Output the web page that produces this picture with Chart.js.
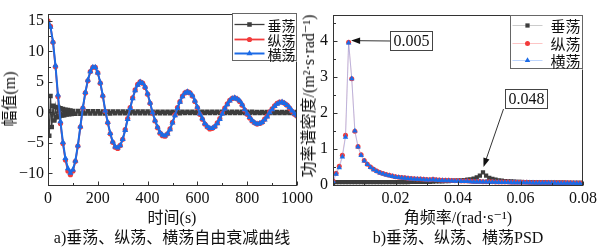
<!DOCTYPE html>
<html>
<head>
<meta charset="utf-8">
<script src="https://cdn.jsdelivr.net/npm/chart.js@4.4.1/dist/chart.umd.min.js"></script>
<style>
  body { margin: 0; background: #fff; }
  #page { position: relative; width: 603px; height: 250px; overflow: hidden; font-family: "Liberation Serif", "DejaVu Serif", "Noto Sans CJK SC", serif; color: #111; }
  .box { position: absolute; top: 0; height: 250px; }
  .txt { position: absolute; white-space: nowrap; font-size: 16px; line-height: 16px; }
  .ytitle { transform: translate(-50%, -50%) rotate(-90deg); }
  .ctr { transform: translate(-50%, -50%); }
</style>
</head>
<body>
<div id="page">
  <div class="box" style="left:0;width:320px"><canvas id="decay"></canvas></div>
  <div class="box" style="left:295px;width:308px"><canvas id="psd"></canvas></div>
  <div class="txt ytitle" style="left:10px;top:99px">幅值(m)</div>
  <div class="txt ctr" style="left:172px;top:218px">时间(s)</div>
  <div class="txt ctr" style="left:172px;top:238px">a)垂荡、纵荡、横荡自由衰减曲线</div>
  <div class="txt ytitle" style="left:309px;top:96px">功率谱密度/(m²·s·rad⁻¹)</div>
  <div class="txt ctr" style="left:458px;top:218px">角频率/(rad·s⁻¹)</div>
  <div class="txt ctr" style="left:458px;top:238px">b)垂荡、纵荡、横荡PSD</div>
</div>
<script>
// ---- data: free decay (time in s, amplitude in m)
const time = [0,10,20,30,40,50,60,70,80,90,
  100,110,120,130,140,150,160,170,180,190,
  200,210,220,230,240,250,260,270,280,290,
  300,310,320,330,340,350,360,370,380,390,
  400,410,420,430,440,450,460,470,480,490,
  500,510,520,530,540,550,560,570,580,590,
  600,610,620,630,640,650,660,670,680,690,
  700,710,720,730,740,750,760,770,780,790,
  800,810,820,830,840,850,860,870,880,890,
  900,910,920,930,940,950,960,970,980,990,1000];

const surge = [15,14.1,11.5,7.5,2.6,-1.8,-5.1,-7.8,-9.6,-10.2,
  -9.6,-8.0,-5.5,-2.4,0.7,3.2,5.2,6.7,7.4,7.4,
  6.5,4.8,2.7,0.2,-1.7,-3.5,-4.9,-5.7,-5.9,-5.4,
  -4.4,-2.8,-1.0,0.8,2.4,3.7,4.6,5.0,4.8,4.1,
  3.0,1.5,-0.1,-1.4,-2.5,-3.4,-3.8,-3.9,-3.5,-2.7,
  -1.6,-0.4,0.8,1.8,2.7,3.2,3.4,3.2,2.7,1.8,
  0.8,-0.3,-1.1,-1.9,-2.4,-2.7,-2.6,-2.3,-1.7,-1.0,
  -0.1,0.7,1.4,2.0,2.3,2.4,2.2,1.8,1.2,0.4,
  -0.3,-0.9,-1.4,-1.7,-1.9,-1.8,-1.6,-1.1,-0.6,0.1,
  0.6,1.1,1.5,1.7,1.7,1.5,1.2,0.7,0.2,-0.3,-0.6];

const sway = [14.8,14.0,11.6,7.7,2.9,-1.5,-4.9,-7.5,-9.2,-9.9,
  -9.4,-7.9,-5.4,-2.3,0.8,3.3,5.3,6.7,7.4,7.4,
  6.5,4.9,2.8,0.3,-1.6,-3.4,-4.8,-5.6,-5.8,-5.4,
  -4.4,-2.9,-1.1,0.7,2.3,3.6,4.5,5.0,4.8,4.2,
  3.1,1.6,0.0,-1.3,-2.4,-3.3,-3.7,-3.8,-3.5,-2.8,
  -1.7,-0.5,0.7,1.7,2.6,3.2,3.4,3.2,2.8,1.9,
  0.9,-0.2,-1.0,-1.8,-2.3,-2.6,-2.6,-2.3,-1.8,-1.1,
  -0.2,0.6,1.3,1.9,2.3,2.4,2.2,1.9,1.3,0.5,
  -0.2,-0.8,-1.3,-1.7,-1.9,-1.8,-1.6,-1.2,-0.7,0.0,
  0.5,1.0,1.4,1.6,1.7,1.5,1.2,0.8,0.3,-0.2,-0.5];

const heaveTime = [0,5,10,15,20,25,30,35,40,45,50,55,60,65,70,75,80,85,90,95,100,
  110,120,130,140,150,160,170,180,190,200,
  210,220,230,240,250,260,270,280,290,300,
  310,320,330,340,350,360,370,380,390,400,
  410,420,430,440,450,460,470,480,490,500,
  510,520,530,540,550,560,570,580,590,600,
  610,620,630,640,650,660,670,680,690,700,
  710,720,730,740,750,760,770,780,790,800,
  810,820,830,840,850,860,870,880,890,900,
  910,920,930,940,950,960,970,980,990,1000];

const heave = [0.2,-3.8,2.7,-2.4,1.1,-1.3,0.9,-0.8,0.8,-0.6,0.7,-0.5,0.55,-0.45,0.45,-0.35,0.4,-0.3,0.3,-0.25,0.25,
  -0.2,0.22,-0.19,0.2,-0.18,0.2,-0.17,0.19,-0.16,0.18,
  -0.16,0.17,-0.15,0.17,-0.15,0.16,-0.14,0.16,-0.14,0.15,
  -0.14,0.15,-0.13,0.15,-0.13,0.14,-0.13,0.14,-0.12,0.14,
  -0.12,0.13,-0.12,0.13,-0.12,0.13,-0.11,0.13,-0.11,0.12,
  -0.11,0.12,-0.11,0.12,-0.1,0.12,-0.1,0.11,-0.1,0.11,
  -0.1,0.11,-0.1,0.11,-0.1,0.1,-0.09,0.1,-0.09,0.1,
  -0.09,0.1,-0.09,0.1,-0.09,0.1,-0.09,0.1,-0.09,0.1,
  -0.08,0.1,-0.08,0.09,-0.08,0.09,-0.08,0.09,-0.08,0.09,
  -0.08,0.09,-0.08,0.09,-0.08,0.09,-0.08,0.09,-0.08,0.09];

// ---- data: power spectral density
const freq = [0,0.001,0.002,0.003,0.004,0.005,0.006,0.007,0.008,0.009,
  0.010,0.011,0.012,0.013,0.014,0.015,0.016,0.017,0.018,0.019,
  0.020,0.021,0.022,0.023,0.024,0.025,0.026,0.027,0.028,0.029,
  0.030,0.031,0.032,0.033,0.034,0.035,0.036,0.037,0.038,0.039,
  0.040,0.041,0.042,0.043,0.044,0.045,0.046,0.047,0.048,0.049,
  0.050,0.051,0.052,0.053,0.054,0.055,0.056,0.057,0.058,0.059,
  0.060,0.061,0.062,0.063,0.064,0.065,0.066,0.067,0.068,0.069,
  0.070,0.071,0.072,0.073,0.074,0.075,0.076,0.077,0.078,0.079,0.080];

const heavePsd = [0.06,0.08,0.08,0.08,0.08,0.08,0.08,0.08,0.08,0.08,
  0.08,0.08,0.08,0.08,0.08,0.08,0.08,0.08,0.08,0.08,
  0.08,0.08,0.08,0.08,0.08,0.085,0.085,0.085,0.09,0.09,
  0.09,0.09,0.095,0.1,0.1,0.105,0.11,0.11,0.115,0.12,
  0.125,0.13,0.14,0.15,0.16,0.18,0.21,0.26,0.35,0.26,
  0.2,0.17,0.15,0.13,0.12,0.11,0.105,0.1,0.095,0.09,
  0.088,0.085,0.083,0.08,0.078,0.076,0.075,0.073,0.072,0.07,
  0.069,0.068,0.067,0.066,0.065,0.064,0.063,0.062,0.061,0.06,0.06];

const surgePsd = [0.12,0.33,0.52,0.83,1.38,3.96,2.95,1.49,1.07,0.84,
  0.68,0.58,0.50,0.44,0.39,0.35,0.32,0.29,0.27,0.25,
  0.23,0.22,0.21,0.20,0.19,0.18,0.175,0.17,0.165,0.16,
  0.155,0.15,0.16,0.145,0.14,0.135,0.13,0.13,0.125,0.12,
  0.12,0.115,0.11,0.11,0.105,0.10,0.10,0.10,0.095,0.095,
  0.09,0.09,0.088,0.086,0.085,0.083,0.082,0.08,0.079,0.078,
  0.077,0.076,0.075,0.074,0.073,0.072,0.071,0.07,0.069,0.068,
  0.067,0.066,0.065,0.064,0.063,0.062,0.061,0.06,0.059,0.058,0.057];

const swayPsd = [0.1,0.3,0.48,0.78,1.33,3.94,2.95,1.5,1.06,0.82,
  0.67,0.57,0.49,0.43,0.38,0.34,0.31,0.28,0.26,0.24,
  0.22,0.21,0.2,0.19,0.18,0.17,0.165,0.16,0.155,0.15,
  0.145,0.14,0.15,0.135,0.13,0.125,0.12,0.12,0.115,0.11,
  0.11,0.105,0.1,0.1,0.095,0.09,0.09,0.09,0.085,0.085,
  0.08,0.08,0.078,0.076,0.075,0.073,0.072,0.07,0.069,0.068,
  0.067,0.066,0.065,0.064,0.063,0.062,0.061,0.06,0.059,0.058,
  0.057,0.056,0.055,0.054,0.053,0.052,0.051,0.05,0.049,0.048,0.047];

const seriesNames = ['垂荡', '纵荡', '横荡'];
const peakFreq = [0.005, 0.048];
const peakPsd = [3.95, 0.35];
const peakText = ['0.005', '0.048'];

const numFont = '"Liberation Serif", "DejaVu Serif", serif';
const cjkFont = '"Noto Sans CJK SC", sans-serif';
const gray = '#3d3d3d', red = '#f23b3b', blue = '#1c6be6';

function pts(xs, ys) {
  return xs.map((x, i) => ({ x: x, y: ys[i] }));
}

function minusSign(v) {
  return v < 0 ? '\u2212' + Math.abs(v) : String(v);
}

function drawMarker(ctx, style, x, y, r, color) {
  ctx.fillStyle = color;
  ctx.beginPath();
  if (style === 'rect') {
    const s = r * Math.SQRT1_2;
    ctx.rect(x - s, y - s, 2 * s, 2 * s);
  } else if (style === 'circle') {
    ctx.arc(x, y, r, 0, Math.PI * 2);
  } else {
    ctx.moveTo(x, y - r);
    ctx.lineTo(x + r * 0.866, y + r * 0.5);
    ctx.lineTo(x - r * 0.866, y + r * 0.5);
    ctx.closePath();
  }
  ctx.fill();
}

// box round the plot and inward ticks
const frame = {
  id: 'frame',
  afterDraw(chart, args, o) {
    const { ctx, chartArea: a } = chart;
    const xs = chart.scales.x, ys = chart.scales.y;
    ctx.save();
    ctx.strokeStyle = '#333';
    ctx.lineWidth = 1;
    const l = Math.round(a.left) + 0.5, t = Math.round(a.top) + 0.5;
    const r = Math.round(a.right) - 0.5, b = Math.round(a.bottom) - 0.5;
    ctx.strokeRect(l, t, r - l, b - t);
    ctx.beginPath();
    for (let i = Math.ceil(xs.min / o.xMinor - 1e-6); i * o.xMinor <= xs.max + 1e-9; i++) {
      const v = i * o.xMinor;
      const major = Math.abs(v / o.xMajor - Math.round(v / o.xMajor)) < 1e-6;
      const px = Math.round(xs.getPixelForValue(v)) + 0.5;
      ctx.moveTo(px, b);
      ctx.lineTo(px, b - (major ? 4 : 2.5));
    }
    for (let i = Math.ceil(ys.min / o.yMinor - 1e-6); i * o.yMinor <= ys.max + 1e-9; i++) {
      const v = i * o.yMinor;
      const major = Math.abs(v / o.yMajor - Math.round(v / o.yMajor)) < 1e-6;
      const py = Math.round(ys.getPixelForValue(v)) + 0.5;
      ctx.moveTo(l, py);
      ctx.lineTo(l + (major ? 4 : 2.5), py);
    }
    ctx.stroke();
    ctx.restore();
  }
};

// legend in a framed box at the top right of the plot
const boxLegend = {
  id: 'boxLegend',
  afterDraw(chart, args, o) {
    const { ctx, chartArea: a } = chart;
    const left = Math.round(a.right - o.w) + 0.5, top = Math.round(a.top + o.dy) + 0.5;
    ctx.save();
    ctx.fillStyle = '#fff';
    ctx.fillRect(left, top, o.w, o.h);
    ctx.strokeStyle = '#666';
    ctx.lineWidth = 1;
    ctx.strokeRect(left, top, o.w - 1, o.h - 1);
    chart.data.datasets.forEach((ds, i) => {
      const y = top + o.rows[i];
      ctx.strokeStyle = ds.borderColor;
      ctx.lineWidth = ds.borderWidth;
      ctx.beginPath();
      ctx.moveTo(left + 2, y);
      ctx.lineTo(left + 32, y);
      ctx.stroke();
      drawMarker(ctx, ds.pointStyle, left + 17, y, ds.pointRadius, ds.pointBackgroundColor);
      ctx.fillStyle = '#111';
      ctx.font = o.fontSize + 'px ' + cjkFont;
      ctx.textBaseline = 'middle';
      ctx.textAlign = 'left';
      ctx.fillText(ds.label, left + o.textX, y + 1);
    });
    ctx.restore();
  }
};

// framed labels with arrows pointing at the spectral peaks
const peakNotes = {
  id: 'peakNotes',
  afterDraw(chart, args, o) {
    const { ctx } = chart;
    const xs = chart.scales.x, ys = chart.scales.y;
    ctx.save();
    o.items.forEach(it => {
      const px = xs.getPixelForValue(it.x), py = ys.getPixelForValue(it.y);
      const bx = Math.round(px + it.dx) + 0.5, by = Math.round(py + it.dy) + 0.5;
      const sx = bx + it.ax, sy = by + it.ay, tx = px + it.tx, ty = py + it.ty;
      const ang = Math.atan2(ty - sy, tx - sx);
      ctx.strokeStyle = '#333';
      ctx.lineWidth = 1;
      ctx.beginPath();
      ctx.moveTo(sx, sy);
      ctx.lineTo(tx - Math.cos(ang) * 6, ty - Math.sin(ang) * 6);
      ctx.stroke();
      ctx.fillStyle = '#111';
      ctx.beginPath();
      ctx.moveTo(tx, ty);
      ctx.lineTo(tx - Math.cos(ang) * 9 - Math.sin(ang) * 3.2, ty - Math.sin(ang) * 9 + Math.cos(ang) * 3.2);
      ctx.lineTo(tx - Math.cos(ang) * 9 + Math.sin(ang) * 3.2, ty - Math.sin(ang) * 9 - Math.cos(ang) * 3.2);
      ctx.closePath();
      ctx.fill();
      ctx.fillStyle = '#fff';
      ctx.fillRect(bx, by, it.w, it.h);
      ctx.strokeStyle = '#444';
      ctx.strokeRect(bx, by, it.w, it.h);
      ctx.fillStyle = '#111';
      ctx.font = '16px ' + numFont;
      ctx.textAlign = 'center';
      ctx.textBaseline = 'middle';
      ctx.fillText(it.text, bx + it.w / 2, by + it.h / 2 + 1);
    });
    ctx.restore();
  }
};

const tickFont = { family: numFont, size: 16 };

new Chart(document.getElementById('decay'), {
  type: 'line',
  data: {
    datasets: [
      { label: seriesNames[0], data: pts(heaveTime, heave), borderColor: gray, backgroundColor: gray,
        pointBackgroundColor: gray, pointBorderWidth: 0, pointStyle: 'rect', pointRadius: 3.2, borderWidth: 1.3, order: 3 },
      { label: seriesNames[1], data: pts(time, surge), borderColor: red, backgroundColor: red,
        pointBackgroundColor: red, pointBorderWidth: 0, pointStyle: 'circle', pointRadius: 2.6, borderWidth: 1.8, order: 2 },
      { label: seriesNames[2], data: pts(time, sway), borderColor: blue, backgroundColor: blue,
        pointBackgroundColor: blue, pointBorderWidth: 0, pointStyle: 'triangle', pointRadius: 3.5, borderWidth: 2, order: 1 }
    ]
  },
  options: {
    responsive: true,
    maintainAspectRatio: false,
    animation: false,
    layout: { padding: { top: 3, right: 23, left: 0, bottom: 0 } },
    elements: { line: { tension: 0 } },
    plugins: {
      legend: { display: false },
      tooltip: { enabled: false },
      frame: { xMajor: 200, xMinor: 100, yMajor: 5, yMinor: 2.5 },
      boxLegend: { w: 65, h: 48, dy: -1, rows: [11, 26, 40], textX: 35, fontSize: 14 }
    },
    scales: {
      x: {
        type: 'linear', min: 0, max: 1000,
        grid: { display: false, drawTicks: false }, border: { display: false },
        ticks: { stepSize: 200, padding: 3, maxRotation: 0, color: '#111', font: tickFont, callback: v => String(v) },
        afterFit(s) { s.height = 64; }
      },
      y: {
        type: 'linear', min: -12.05, max: 16.2,
        grid: { display: false, drawTicks: false }, border: { display: false },
        ticks: { stepSize: 5, includeBounds: false, padding: 4, color: '#111', font: tickFont, callback: v => minusSign(v) },
        afterFit(s) { s.width = 48; }
      }
    }
  },
  plugins: [frame, boxLegend]
});

const noteItems = peakFreq.map((f, i) => ({
  x: f, y: peakPsd[i], text: peakText[i], w: 42, h: 19,
  dx: [41, 22][i], dy: [-12, -83.5][i],
  ax: [0, -2][i], ay: [9.5, 19.5][i],
  tx: [2.5, 0.5][i], ty: [-2, -5.5][i]
}));

new Chart(document.getElementById('psd'), {
  type: 'line',
  data: {
    datasets: [
      { label: seriesNames[0], data: pts(freq, heavePsd), borderColor: 'rgba(110,110,110,0.35)',
        pointBackgroundColor: gray, pointBorderWidth: 0, pointStyle: 'rect', pointRadius: 3, borderWidth: 1, order: 3 },
      { label: seriesNames[1], data: pts(freq, surgePsd), borderColor: 'rgba(250,110,110,0.4)',
        pointBackgroundColor: red, pointBorderWidth: 0, pointStyle: 'circle', pointRadius: 2.5, borderWidth: 1, order: 2 },
      { label: seriesNames[2], data: pts(freq, swayPsd), borderColor: 'rgba(90,150,250,0.4)',
        pointBackgroundColor: blue, pointBorderWidth: 0, pointStyle: 'triangle', pointRadius: 3.2, borderWidth: 1, order: 1 }
    ]
  },
  options: {
    responsive: true,
    maintainAspectRatio: false,
    animation: false,
    layout: { padding: { top: 3, right: 20, left: 0, bottom: 0 } },
    elements: { line: { tension: 0 } },
    plugins: {
      legend: { display: false },
      tooltip: { enabled: false },
      frame: { xMajor: 0.02, xMinor: 0.01, yMajor: 1, yMinor: 0.5 },
      boxLegend: { w: 73, h: 54, dy: 0, rows: [10, 28, 45], textX: 40, fontSize: 15 },
      peakNotes: { items: noteItems }
    },
    scales: {
      x: {
        type: 'linear', min: 0, max: 0.08,
        grid: { display: false, drawTicks: false }, border: { display: false },
        ticks: { stepSize: 0.02, padding: 3, maxRotation: 0, color: '#111', font: { family: numFont, size: 16 },
          callback: v => (v === 0 ? '' : v.toFixed(2)) },
        afterFit(s) { s.height = 64; }
      },
      y: {
        type: 'linear', min: -0.026, max: 4.727,
        grid: { display: false, drawTicks: false }, border: { display: false },
        ticks: { stepSize: 1, includeBounds: false, padding: 5, color: '#111', font: { family: numFont, size: 16 } },
        afterFit(s) { s.width = 38; }
      }
    }
  },
  plugins: [frame, boxLegend, peakNotes]
});
</script>
</body>
</html>
